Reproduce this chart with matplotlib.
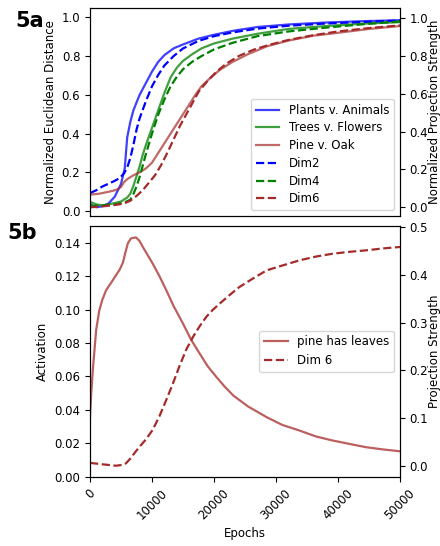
import numpy as np
import matplotlib
matplotlib.use('Agg')
import matplotlib.pyplot as plt

plt.rcParams['font.size'] = 8.5

# Panel 5a: distances between category representations (left axis)
ep_blue = [0, 1000, 2000, 3000, 4000, 5000, 5600, 6000, 6500, 7000, 8000, 9000, 10000, 11000,
           12000, 13500, 15000, 17500, 20000, 23000, 27000, 32000, 38000, 44000, 50000]
plants_animals = [0.035, 0.02, 0.025, 0.04, 0.075, 0.14, 0.22, 0.38, 0.46, 0.52, 0.60, 0.66, 0.72, 0.77,
                  0.805, 0.84, 0.86, 0.89, 0.91, 0.93, 0.95, 0.963, 0.973, 0.98, 0.985]

ep_green = [0, 1000, 2000, 3000, 4000, 5000, 6000, 6500, 7000, 7500, 8000, 8500, 9000, 10000, 11000,
            12000, 13000, 14000, 15000, 16500, 18000, 20000, 23000, 27000, 32000, 38000, 44000, 50000]
trees_flowers = [0.048, 0.035, 0.03, 0.035, 0.042, 0.05, 0.07, 0.09, 0.13, 0.18, 0.23, 0.29, 0.34, 0.43, 0.52,
                 0.61, 0.69, 0.74, 0.775, 0.81, 0.84, 0.865, 0.89, 0.915, 0.94, 0.955, 0.967, 0.975]

ep_pine = [0, 1500, 3000, 4300, 5000, 5500, 6000, 7000, 8000, 9000, 10000, 11000, 12000, 13000, 14000,
           15000, 16000, 17000, 18000, 19500, 21000, 23000, 25500, 28500, 32000, 36000, 40000, 45000, 50000]
pine_oak = [0.085, 0.09, 0.1, 0.11, 0.125, 0.15, 0.165, 0.185, 0.2, 0.22, 0.25, 0.3, 0.35, 0.4, 0.45,
            0.5, 0.55, 0.6, 0.645, 0.69, 0.73, 0.77, 0.81, 0.85, 0.88, 0.905, 0.92, 0.94, 0.955]

# Panel 5a: projection strengths (right axis)
ep_dim2 = [0, 1000, 2000, 3000, 4000, 4800, 5500, 6000, 6500, 7000, 7500, 8000, 9000, 10000, 11000,
           12000, 13500, 15000, 17500, 20000, 23000, 27000, 32000, 38000, 44000, 50000]
dim2 = [0.075, 0.09, 0.11, 0.125, 0.14, 0.155, 0.18, 0.21, 0.26, 0.33, 0.41, 0.47, 0.56, 0.64, 0.70,
        0.75, 0.80, 0.84, 0.88, 0.905, 0.925, 0.945, 0.96, 0.972, 0.98, 0.988]

ep_dim4 = [0, 2000, 4000, 5500, 6500, 7000, 7500, 8000, 8500, 9000, 10000, 11000, 12000, 13000, 14000,
           15000, 16500, 18000, 20000, 23000, 27000, 32000, 38000, 44000, 50000]
dim4 = [0.007, 0.01, 0.015, 0.025, 0.04, 0.07, 0.11, 0.16, 0.22, 0.28, 0.39, 0.49, 0.57, 0.64, 0.69,
        0.73, 0.77, 0.80, 0.835, 0.87, 0.905, 0.93, 0.95, 0.968, 0.983]

ep_dim6 = [0, 2000, 4000, 5500, 6500, 7500, 8500, 9500, 10500, 11500, 12500, 13500, 14500, 15500, 16500,
           17500, 19000, 20500, 22000, 24000, 26500, 29000, 32000, 36000, 40000, 45000, 50000]
dim6 = [0.0, 0.005, 0.012, 0.02, 0.035, 0.06, 0.09, 0.13, 0.17, 0.225, 0.29, 0.36, 0.43, 0.49, 0.55,
        0.61, 0.67, 0.72, 0.76, 0.8, 0.835, 0.86, 0.885, 0.91, 0.93, 0.948, 0.962]

# Panel 5b: activation of "pine has leaves" and raw Dim 6 projection
ep_leaves = [0, 200, 500, 1000, 1500, 2000, 2600, 3400, 4200, 4800, 5300, 5700, 6100, 6600, 7400, 8000,
             8500, 9300, 10100, 11200, 12300, 13500, 15000, 16300, 17700, 19000, 20400, 21700, 23100,
             25500, 28500, 31000, 33800, 36500, 39200, 42000, 44600, 47300, 50000]
pine_leaves = [0.036, 0.05, 0.066, 0.088, 0.0995, 0.106, 0.1116, 0.116, 0.1206, 0.124, 0.128, 0.134,
               0.1396, 0.1426, 0.1432, 0.141, 0.1376, 0.1326, 0.1276, 0.12, 0.1116, 0.102, 0.0916,
               0.082, 0.0736, 0.066, 0.0596, 0.054, 0.0486, 0.042, 0.0356, 0.031, 0.0276, 0.024,
               0.0216, 0.0195, 0.0176, 0.0163, 0.0152]

ep_d6 = [0, 2000, 4200, 5300, 5800, 6500, 7200, 8000, 9000, 10100, 11200, 12300, 13300, 14400, 15500,
         16600, 17700, 18800, 19800, 20900, 22500, 24100, 26300, 28500, 31000, 33800, 36500, 39200,
         42000, 44600, 47300, 50000]
dim6_raw = [0.006, 0.003, 0.0, 0.002, 0.005, 0.015, 0.027, 0.04, 0.055, 0.075, 0.104, 0.138, 0.17,
            0.208, 0.243, 0.27, 0.293, 0.313, 0.327, 0.34, 0.358, 0.375, 0.393, 0.41, 0.42, 0.431,
            0.439, 0.445, 0.449, 0.452, 0.456, 0.459]

fig = plt.figure(figsize=(4.4, 5.46), dpi=100)

# ---- 5a ----
ax1 = fig.add_axes([90 / 440, 1 - 216 / 546, 310 / 440, 208 / 546])
ax1r = ax1.twinx()
l1, = ax1.plot(ep_blue, plants_animals, color='blue', lw=1.6, alpha=0.75, label='Plants v. Animals')
l2, = ax1.plot(ep_green, trees_flowers, color='green', lw=1.6, alpha=0.75, label='Trees v. Flowers')
l3, = ax1.plot(ep_pine, pine_oak, color='brown', lw=1.6, alpha=0.7, label='Pine v. Oak')
l4, = ax1r.plot(ep_dim2, dim2, color='blue', lw=1.6, ls='--', label='Dim2')
l5, = ax1r.plot(ep_dim4, dim4, color='green', lw=1.6, ls='--', label='Dim4')
l6, = ax1r.plot(ep_dim6, dim6, color='brown', lw=1.6, ls='--', label='Dim6')
ax1.set_xlim(0, 50000)
ax1.set_ylim(-0.025, 1.048)
ax1r.set_ylim(-0.046, 1.054)
ax1.tick_params(bottom=False, labelbottom=False)
ax1.set_yticks([0.0, 0.2, 0.4, 0.6, 0.8, 1.0])
ax1r.set_yticks([0.0, 0.2, 0.4, 0.6, 0.8, 1.0])
ax1.set_ylabel('Normalized Euclidean Distance', labelpad=3)
ax1r.set_ylabel('Normalized Projection Strength', labelpad=0)
ax1r.legend(handles=[l1, l2, l3, l4, l5, l6], loc='lower right', fontsize=8.5, labelspacing=0.4)
fig.text(0.034, 0.95, '5a', fontsize=15, fontweight='bold')

# ---- 5b ----
ax2 = fig.add_axes([90 / 440, 1 - 476.7 / 546, 310 / 440, 250.7 / 546])
ax2r = ax2.twinx()
m1, = ax2.plot(ep_leaves, pine_leaves, color='brown', lw=1.6, alpha=0.75, label='pine has leaves')
m2, = ax2r.plot(ep_d6, dim6_raw, color='brown', lw=1.6, ls='--', label='Dim 6')
ax2.set_xlim(0, 50000)
ax2.set_ylim(0, 0.15)
ax2r.set_ylim(-0.023, 0.503)
ax2.set_xticks([0, 10000, 20000, 30000, 40000, 50000])
ax2.tick_params(axis='x', labelrotation=45)
ax2.set_yticks([0.0, 0.02, 0.04, 0.06, 0.08, 0.10, 0.12, 0.14])
ax2r.set_yticks([0.0, 0.1, 0.2, 0.3, 0.4, 0.5])
ax2.set_xlabel('Epochs')
ax2.set_ylabel('Activation')
ax2r.set_ylabel('Projection Strength', labelpad=0)
ax2r.legend(handles=[m1, m2], loc='center right', fontsize=8.5)
fig.text(0.016, 0.563, '5b', fontsize=15, fontweight='bold')

fig.savefig('out.png', dpi=100)
